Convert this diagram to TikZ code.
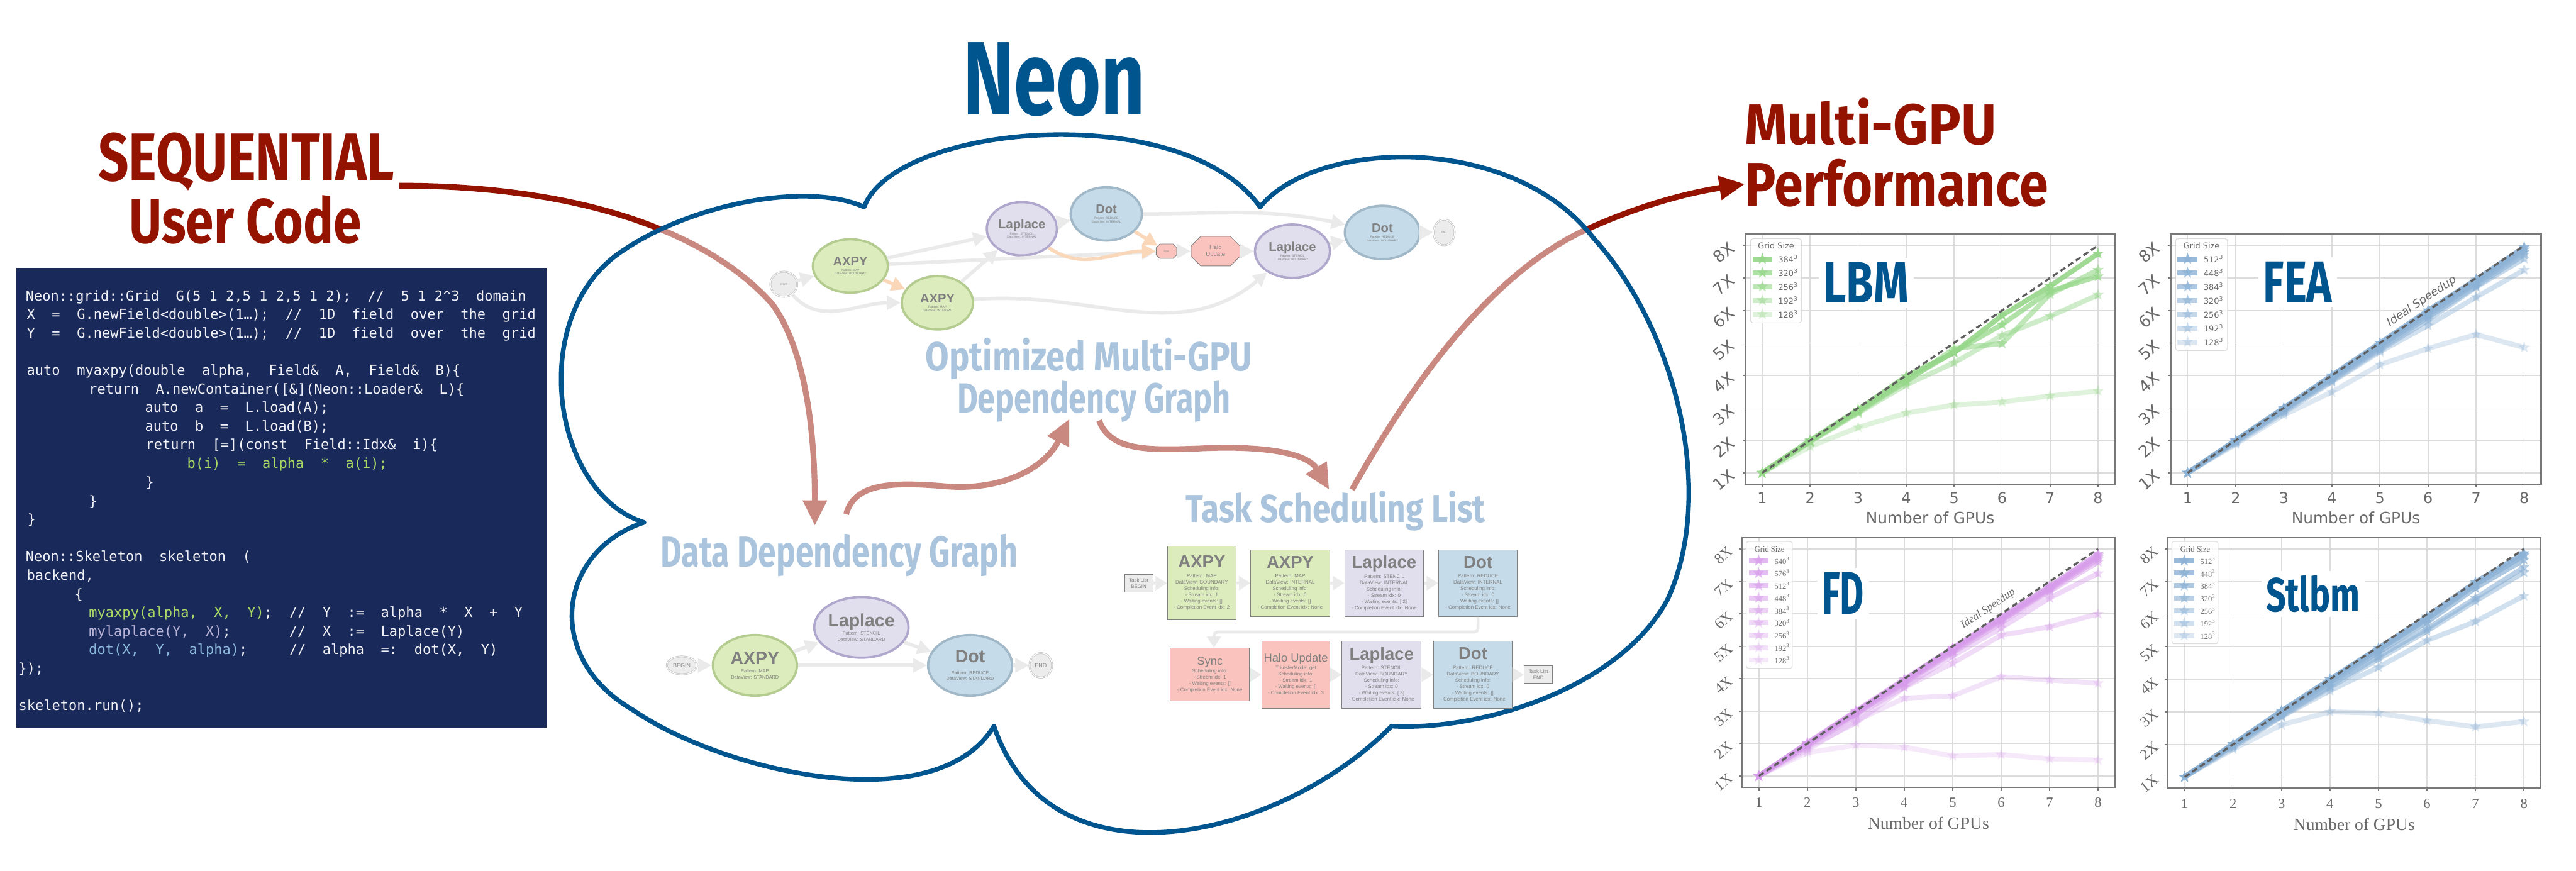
\documentclass[tikz,border=0pt]{standalone}
\usepackage{fontspec}
\usepackage{graphicx}
\usetikzlibrary{shapes.geometric, shapes.misc, arrows.meta, positioning}
\newfontfamily\codefont{DejaVu Sans Mono}
\newfontfamily\graphfont{Liberation Sans}
\newfontfamily\plotsans{DejaVu Sans}
\newfontfamily\plotserif{Liberation Serif}
\newfontfamily\handfont{Fira Sans}

\definecolor{neonblue}{RGB}{0,85,143}
\definecolor{seqred}{RGB}{147,19,0}
\definecolor{paleblue}{RGB}{169,196,220}
\definecolor{codebg}{RGB}{24,41,90}
\definecolor{codetext}{RGB}{240,240,245}
\definecolor{codegreen}{RGB}{170,218,100}
\definecolor{codelav}{RGB}{185,180,215}
\definecolor{codeblue}{RGB}{140,185,220}
\definecolor{axfill}{RGB}{220,236,188}
\definecolor{axdraw}{RGB}{181,204,144}
\definecolor{lpfill}{RGB}{225,223,238}
\definecolor{lpdraw}{RGB}{176,168,204}
\definecolor{dtfill}{RGB}{197,219,233}
\definecolor{dtdraw}{RGB}{160,184,200}
\definecolor{hlfill}{RGB}{250,195,189}
\definecolor{endfill}{RGB}{236,236,236}
\definecolor{enddraw}{RGB}{200,200,200}
\definecolor{edgegray}{RGB}{234,234,234}
\definecolor{edgeorange}{RGB}{250,215,185}
\definecolor{labelgray}{RGB}{128,128,128}
\definecolor{tickgray}{RGB}{105,105,105}
\definecolor{idealgray}{RGB}{95,95,95}
\definecolor{gridgray}{RGB}{220,220,220}
\definecolor{framegray}{RGB}{120,120,120}
\definecolor{lbmgreen}{RGB}{150,215,138}
\definecolor{feablue}{RGB}{140,178,214}
\definecolor{fdpurple}{RGB}{215,155,235}

\pgfdeclarelayer{bglayer}
\pgfdeclarelayer{arrowlayer}
\pgfdeclarelayer{cloudlayer}
\pgfsetlayers{bglayer,arrowlayer,cloudlayer,main}

\pgfdeclareplotmark{fstar}{%
  \pgfpathmoveto{\pgfpointpolar{90}{\pgfplotmarksize}}%
  \pgfpathlineto{\pgfpointscale{0.42}{\pgfpointpolar{126}{\pgfplotmarksize}}}%
  \pgfpathlineto{\pgfpointpolar{162}{\pgfplotmarksize}}%
  \pgfpathlineto{\pgfpointscale{0.42}{\pgfpointpolar{198}{\pgfplotmarksize}}}%
  \pgfpathlineto{\pgfpointpolar{234}{\pgfplotmarksize}}%
  \pgfpathlineto{\pgfpointscale{0.42}{\pgfpointpolar{270}{\pgfplotmarksize}}}%
  \pgfpathlineto{\pgfpointpolar{306}{\pgfplotmarksize}}%
  \pgfpathlineto{\pgfpointscale{0.42}{\pgfpointpolar{342}{\pgfplotmarksize}}}%
  \pgfpathlineto{\pgfpointpolar{18}{\pgfplotmarksize}}%
  \pgfpathlineto{\pgfpointscale{0.42}{\pgfpointpolar{54}{\pgfplotmarksize}}}%
  \pgfpathclose
  \pgfusepathqfill}

\newcommand{\toptitle}[1]{{\fontsize{11}{11}\selectfont\bfseries #1}}
\newcommand{\bottitle}[1]{{\fontsize{15.5}{15.5}\selectfont\bfseries #1}}
\newcommand{\tasktitle}[1]{{\fontsize{15}{15}\selectfont\bfseries #1}}

\tikzset{
  bigtitle/.style={inner sep=0pt, anchor=base west},
  codeln/.style={anchor=base west, inner sep=0pt, text=codetext, font=\codefont\fontsize{12}{14}\selectfont},
  redarrow/.style={draw=seqred, line width=5pt, -{Triangle[length=22pt,width=20pt]}},
  cloudshape/.style={draw=neonblue, line width=4pt, line join=round, fill=white, fill opacity=0.5},
  gnode/.style={ellipse, line width=2pt, inner sep=0pt, text=labelgray, align=center},
  topnode/.style={gnode, minimum width=64.9pt, minimum height=46.2pt, font=\graphfont\fontsize{2.6}{3.1}\selectfont},
  botnode/.style={gnode, minimum width=72.8pt, minimum height=52.5pt, font=\graphfont\fontsize{4}{5.2}\selectfont},
  axpyc/.style={fill=axfill, draw=axdraw},
  lapc/.style={fill=lpfill, draw=lpdraw},
  dotc/.style={fill=dtfill, draw=dtdraw},
  endnode/.style={ellipse, fill=endfill, draw=enddraw, double=white, double distance=0.6pt, line width=0.5pt, inner sep=0pt, text=labelgray, align=center},
  octnode/.style={chamfered rectangle, fill=hlfill, draw=labelgray, line width=0.5pt, inner sep=0pt, text=labelgray, align=center},
  gedge/.style={draw=edgegray, line width=3pt, -{Triangle[length=12pt,width=12pt]}},
  oedge/.style={gedge, draw=edgeorange},
  tbox/.style={rectangle, draw=labelgray, line width=0.6pt, inner sep=0pt, text=labelgray, align=center, font=\graphfont\fontsize{4.3}{5.45}\selectfont, minimum width=68.4pt, minimum height=57.9pt},
  tarrow/.style={draw=edgegray, line width=2.5pt, -{Triangle[length=10pt,width=12pt]}},
  gridln/.style={draw=gridgray, line width=0.9pt},
  tickln/.style={draw=framegray, line width=0.9pt},
  plotframe/.style={draw=framegray, line width=1.3pt},
  xticklab/.style={inner sep=0pt, text=tickgray},
  yticklab/.style={inner sep=0pt, text=tickgray, rotate=40},
  plotname/.style={fill=white, inner sep=4pt, text=neonblue},
  series/.style={line width=4.3pt, line join=round, mark=fstar, mark size=5.2pt},
  lbm/.style={series, color=lbmgreen},
  fea/.style={series, color=feablue},
  fdp/.style={series, color=fdpurple},
  ideal/.style={draw=idealgray, line width=1.8pt, dash pattern=on 5pt off 3pt},
  legbox/.style={draw=gridgray, line width=0.6pt, fill=white, fill opacity=0.8, rounded corners=2pt},
  legtext/.style={anchor=west, inner sep=0pt, text=tickgray}
}

\begin{document}
\begin{tikzpicture}[x=0.05cm, y=-0.05cm]

\useasboundingbox (0,0) rectangle (1568,530);
\begin{pgfonlayer}{bglayer}
  \fill[white] (0,0) rectangle (1568,530);
\end{pgfonlayer}

% Titles
\node[bigtitle, text=seqred] (seq) at (59.7,110) {\resizebox{256.5pt}{41.7pt}{\handfont\bfseries SEQUENTIAL}};
\node[bigtitle, text=seqred] (usercode) at (78.5,148) {\resizebox{201pt}{41.3pt}{\handfont\bfseries User Code}};
\node[bigtitle, text=neonblue] (neon) at (586,70) {\resizebox{158pt}{62.6pt}{\handfont\bfseries Neon}};
\node[bigtitle, text=seqred] (mgpu) at (1062,87.8) {\resizebox{217.7pt}{40.1pt}{\handfont\bfseries Multi-GPU}};
\node[bigtitle, text=seqred] (perf) at (1062,125.3) {\resizebox{262.5pt}{40.5pt}{\handfont\bfseries Performance}};
\node[bigtitle, text=paleblue] (ddg) at (402,345) {\resizebox{309.4pt}{28.5pt}{\handfont\bfseries Data Dependency Graph}};
\node[bigtitle, text=paleblue] (optim) at (563.2,225.8) {\resizebox{283pt}{28.5pt}{\handfont\bfseries Optimized Multi-GPU}};
\node[bigtitle, text=paleblue] (depgraph) at (582.5,251.2) {\resizebox{236.9pt}{27.7pt}{\handfont\bfseries Dependency Graph}};
\node[bigtitle, text=paleblue] (tsl) at (721.5,318) {\resizebox{259.6pt}{27.3pt}{\handfont\bfseries Task Scheduling List}};

% Code
\fill[codebg] (10.1,163) rectangle (332.6,443);
\node[codeln] (c1) at (15.5,183.0) {Neon::grid::Grid~~G(5~1~2,5~1~2,5~1~2);~~//~~5~1~2\textasciicircum3~~domain};
\node[codeln] (c2) at (16.2,194.3) {X~~=~~G.newField<double>(1…);~~//~~1D~~field~~over~~the~~grid};
\node[codeln] (c3) at (16.2,205.7) {Y~~=~~G.newField<double>(1…);~~//~~1D~~field~~over~~the~~grid};
\node[codeln] (c5) at (16.2,228.4) {auto~~myaxpy(double~~alpha,~~Field\&~~A,~~Field\&~~B)\{};
\node[codeln] (c6) at (54,239.7) {return~~A.newContainer([\&](Neon::Loader\&~~L)\{};
\node[codeln] (c7) at (88.1,251.0) {auto~~a~~=~~L.load(A);};
\node[codeln] (c8) at (88.1,262.4) {auto~~b~~=~~L.load(B);};
\node[codeln] (c9) at (88.5,273.7) {return~~[=](const~~Field::Idx\&~~i)\{};
\node[codeln] (c10) at (113.8,285.1) {{\color{codegreen}b(i)~~=~~alpha~~*~~a(i);}};
\node[codeln] (c11) at (88.5,296.4) {\}};
\node[codeln] (c12) at (54,307.8) {\}};
\node[codeln] (c13) at (16.6,319.1) {\}};
\node[codeln] (c15) at (15.5,341.8) {Neon::Skeleton~~skeleton~~(};
\node[codeln] (c16) at (16.2,353.1) {backend,};
\node[codeln] (c17) at (45.3,364.5) {\{};
\node[codeln] (c18) at (54,375.8) {{\color{codegreen}myaxpy(alpha,~~X,~~Y)};~~//~~Y~~:=~~alpha~~*~~X~~+~~Y};
\node[codeln] (c19) at (54,387.2) {{\color{codelav}mylaplace(Y,~~X)};~~~~~~~//~~X~~:=~~Laplace(Y)};
\node[codeln] (c20) at (54,398.5) {{\color{codeblue}dot(X,~~Y,~~alpha)};~~~~~//~~alpha~~=:~~dot(X,~~Y)};
\node[codeln] (c21) at (11.2,409.8) {\});};
\node[codeln] (c23) at (11.2,432.5) {skeleton.run();};

% Arrows
\coordinate (a1s) at (243,113);
\coordinate (a1e) at (496,320);
\coordinate (a2s) at (515,313);
\coordinate (a2e) at (651,255);
\coordinate (a3s) at (669,256);
\coordinate (a3e) at (809,298);
\coordinate (a4s) at (823,298);
\coordinate (a4e) at (1062,112);
\begin{pgfonlayer}{arrowlayer}
  \draw[redarrow] (a1s) .. controls (350,113) and (430,140) .. (470,185) .. controls (492,215) and (496,270) .. (a1e);
  \draw[redarrow] (a2s) .. controls (520,295) and (540,293) .. (575,296) .. controls (610,299) and (636,285) .. (a2e);
  \draw[redarrow] (a3s) .. controls (676,275) and (700,274) .. (730,273) .. controls (770,271) and (796,276) .. (a3e);
  \draw[redarrow] (a4s) .. controls (850,250) and (900,170) .. (965,140) .. controls (1000,124) and (1030,117) .. (a4e);
\end{pgfonlayer}

% Cloud
\begin{pgfonlayer}{cloudlayer}
  \path[cloudshape] (526,126) .. controls (545,75) and (720,60) .. (767,126)
    .. controls (800,85) and (920,80) .. (970,145)
    .. controls (1020,200) and (1045,300) .. (1015,365)
    .. controls (985,420) and (900,445) .. (847,442)
    .. controls (780,510) and (640,545) .. (605,442)
    .. controls (570,500) and (440,470) .. (385,432)
    .. controls (330,400) and (340,335) .. (392,318)
    .. controls (335,300) and (320,190) .. (380,152)
    .. controls (420,125) and (490,110) .. cycle;
\end{pgfonlayer}

% Optimized graph
\node[endnode, minimum width=23.3pt, minimum height=21.8pt, font=\graphfont\fontsize{2}{2.4}\selectfont] (gstart) at (477.1,173) {START};
\node[topnode, axpyc] (gax1) at (517.6,161.9) {\toptitle{AXPY}\\[1.4pt]Pattern: MAP\\DataView: BOUNDARY};
\node[topnode, axpyc, minimum width=61.7pt] (gax2) at (570.6,184.3) {\toptitle{AXPY}\\[1.4pt]Pattern: MAP\\DataView: INTERNAL};
\node[topnode, lapc, minimum width=60.7pt] (glp1) at (622,139.3) {\toptitle{Laplace}\\Pattern: STENCIL\\DataView: INTERNAL};
\node[topnode, dotc, minimum width=61.7pt] (gdt1) at (673.4,130.2) {\toptitle{Dot}\\[2pt]Pattern: REDUCE\\DataView: INTERNAL};
\node[octnode, minimum width=17.8pt, minimum height=12.4pt, chamfered rectangle xsep=3pt, font=\graphfont\fontsize{2}{2.4}\selectfont] (gsync) at (710,152.9) {Sync};
\node[octnode, minimum width=42.5pt, minimum height=25.5pt, chamfered rectangle xsep=7pt, font=\graphfont\fontsize{5.2}{6.2}\selectfont] (ghalo) at (739.9,152.9) {Halo\\Update};
\node[topnode, lapc] (glp2) at (786.7,152.9) {\toptitle{Laplace}\\Pattern: STENCIL\\DataView: BOUNDARY};
\node[topnode, dotc] (gdt2) at (841.4,141.5) {\toptitle{Dot}\\[2pt]Pattern: REDUCE\\DataView: BOUNDARY};
\node[endnode, minimum width=18.2pt, minimum height=22.2pt, font=\graphfont\fontsize{2}{2.4}\selectfont] (gend) at (879,141.5) {END};

\draw[gedge] (gstart) -- (gax1);
\draw[gedge] (gstart) to[out=-50, in=180] (gax2);
\draw[oedge] (gax1) -- (gax2);
\draw[gedge] (gax1) -- (glp1);
\draw[gedge] (gax1) -- (gsync);
\draw[gedge] (gax2) -- (glp1);
\draw[gedge] (gax2) to[out=5, in=-140] (glp2);
\draw[gedge] (glp1) -- (gdt1);
\draw[oedge] (glp1) to[out=-35, in=180] (gsync);
\draw[oedge] (gdt1) -- (gsync);
\draw[gedge] (gdt1) to[out=0, in=168] (gdt2);
\draw[gedge] (gsync) -- (ghalo);
\draw[gedge] (ghalo) -- (glp2);
\draw[gedge] (glp2) -- (gdt2);
\draw[gedge] (gdt2) -- (gend);

% Data dependency graph
\node[endnode, minimum width=25.9pt, minimum height=15.4pt, font=\graphfont\fontsize{4.9}{5}\selectfont] (bbegin) at (415,405) {BEGIN};
\node[botnode, axpyc] (bax) at (459.5,405) {\bottitle{AXPY}\\[2pt]Pattern: MAP\\DataView: STANDARD};
\node[botnode, lapc] (blp) at (524.3,381.9) {\bottitle{Laplace}\\Pattern: STENCIL\\DataView: STANDARD};
\node[botnode, dotc] (bdt) at (590.5,405) {\bottitle{Dot}\\[5pt]Pattern: REDUCE\\DataView: STANDARD};
\node[endnode, minimum width=19.6pt, minimum height=21.2pt, font=\graphfont\fontsize{4.9}{5}\selectfont] (bend) at (633.5,405) {END};

\draw[gedge] (bbegin) -- (bax);
\draw[gedge] (bax) -- (blp);
\draw[gedge] (bax) -- (bdt);
\draw[gedge] (blp) -- (bdt);
\draw[gedge] (bdt) -- (bend);

% Task scheduling list
\node[tbox, fill=endfill, minimum width=24.5pt, minimum height=15.4pt] (tbegin) at (693.1,355) {Task List\\BEGIN};
\node[tbox, fill=axfill, minimum width=59.5pt, minimum height=64pt] (tax1) at (731.5,354.9) {\tasktitle{AXPY}\\[3pt]Pattern: MAP\\DataView: BOUNDARY\\Scheduling info:\\- Stream idx: 1\\- Waiting events: []\\- Completion Event idx: 2};
\node[tbox, fill=axfill] (tax2) at (785.35,354.95) {\tasktitle{AXPY}\\[3pt]Pattern: MAP\\DataView: INTERNAL\\Scheduling info:\\- Stream idx: 0\\- Waiting events: []\\- Completion Event idx: None};
\node[tbox, fill=lpfill] (tlp1) at (842.55,354.95) {\tasktitle{Laplace}\\[1.3pt]Pattern: STENCIL\\DataView: INTERNAL\\Scheduling info:\\- Stream idx: 0\\- Waiting events: [ 2]\\- Completion Event idx: None};
\node[tbox, fill=dtfill] (tdt1) at (899.65,354.95) {\tasktitle{Dot}\\[3pt]Pattern: REDUCE\\DataView: INTERNAL\\Scheduling info:\\- Stream idx: 0\\- Waiting events: []\\- Completion Event idx: None};
\node[tbox, fill=hlfill, minimum width=68.7pt, minimum height=45.8pt] (tsync) at (736.45,410.7) {{\fontsize{10}{10}\selectfont Sync}\\[1pt]Scheduling info:\\- Stream idx: 1\\- Waiting events: []\\- Completion Event idx: None};
\node[tbox, fill=hlfill, minimum width=59.2pt, minimum height=58.3pt] (thalo) at (788.8,410.7) {{\fontsize{10}{10}\selectfont Halo Update}\\[1pt]TransferMode: get\\Scheduling info:\\- Stream idx: 1\\- Waiting events: []\\- Completion Event idx: 3};
\node[tbox, fill=lpfill, minimum width=68.7pt, minimum height=58.3pt] (tlp2) at (840.95,410.7) {\tasktitle{Laplace}\\[1.3pt]Pattern: STENCIL\\DataView: BOUNDARY\\Scheduling info:\\- Stream idx: 0\\- Waiting events: [ 3]\\- Completion Event idx: None};
\node[tbox, fill=dtfill, minimum height=58.3pt] (tdt2) at (896.55,410.7) {\tasktitle{Dot}\\[3pt]Pattern: REDUCE\\DataView: BOUNDARY\\Scheduling info:\\- Stream idx: 0\\- Waiting events: []\\- Completion Event idx: None};
\node[tbox, fill=endfill, minimum width=24.5pt, minimum height=15.4pt] (tend) at (936.4,410.7) {Task List\\END};

\draw[tarrow] (tbegin) -- (tax1);
\draw[tarrow] (tax1) -- (tax2);
\draw[tarrow] (tax2) -- (tlp1);
\draw[tarrow] (tlp1) -- (tdt1);
\draw[tarrow, rounded corners=3pt] (tdt1.south) -- ++(0,9.2) -| ([xshift=3.5pt]tsync.north);
\draw[tarrow] (tsync) -- (thalo);
\draw[tarrow] (thalo) -- (tlp2);
\draw[tarrow] (tlp2) -- (tdt2);
\draw[tarrow] (tdt2) -- (tend);

% LBM chart
\begin{scope}[shift={(1043.4,307.6)}, x=1.4605cm, y=0.9885cm]
  \foreach \i in {1,...,8} {
    \draw[gridln] (\i,0.65) -- (\i,8.35);
    \draw[gridln] (0.65,\i) -- (8.35,\i);
    \draw[tickln] (\i,0.65) -- (\i,0.56);
    \draw[tickln] (0.65,\i) -- (0.59,\i);
    \node[xticklab, font=\plotsans\fontsize{13}{13}\selectfont] (lbmx\i) at (\i,0.23) {\i};
    \node[yticklab, font=\plotsans\fontsize{14}{14}\selectfont] (lbmy\i) at (0.2,\i-0.22) {\i X};
  }
  \draw[plotframe] (0.65,0.65) rectangle (8.35,8.35);
  \node[xticklab, font=\plotsans\fontsize{13.5}{14}\selectfont] (lbmxl) at (4.5,-0.39) {Number of GPUs};
  \node[plotname] (lbmname) at (3.17,6.86) {\resizebox{74pt}{35pt}{\handfont\bfseries LBM}};
  \draw[lbm, opacity=0.3] plot coordinates {(1,1) (2,1.81) (3,2.4) (4,2.84) (5,3.09) (6,3.18) (7,3.37) (8,3.52)};
  \draw[lbm, opacity=0.45] plot coordinates {(1,1) (2,1.95) (3,2.84) (4,3.71) (5,4.39) (6,5.23) (7,5.82) (8,6.48)};
  \draw[lbm, opacity=0.6] plot coordinates {(1,1) (2,1.97) (3,2.87) (4,3.8) (5,4.83) (6,4.98) (7,6.5) (8,7.25)};
  \draw[lbm, opacity=0.75] plot coordinates {(1,1) (2,1.98) (3,2.9) (4,3.85) (5,4.72) (6,5.57) (7,6.6) (8,7.05)};
  \draw[lbm, opacity=0.9] plot coordinates {(1,1) (2,2) (3,2.95) (4,3.97) (5,4.7) (6,5.85) (7,6.75) (8,7.75)};
  \draw[ideal] (1,1) -- (8,8);
  \draw[legbox] (0.757,5.62) rectangle (1.82,8.21);
  \node[xticklab, font=\plotsans\fontsize{7}{7}\selectfont] (lbmlt) at (1.29,8.0) {Grid Size};
  \foreach \g/\op [count=\k] in {384/0.9, 320/0.75, 256/0.6, 192/0.45, 128/0.3} {
    \pgfmathsetmacro\yy{7.59-0.427*(\k-1)}
    \draw[lbm, opacity=\op] plot[mark indices={2}] coordinates {(0.8,\yy) (1.005,\yy) (1.21,\yy)};
    \node[legtext, font=\plotsans\fontsize{7}{7}\selectfont] (lbml\k) at (1.33,\yy) {\g\textsuperscript{3}};
  }
\end{scope}

% FEA chart
\begin{scope}[shift={(1302.3,307.6)}, x=1.4635cm, y=0.9885cm]
  \foreach \i in {1,...,8} {
    \draw[gridln] (\i,0.65) -- (\i,8.35);
    \draw[gridln] (0.65,\i) -- (8.35,\i);
    \draw[tickln] (\i,0.65) -- (\i,0.56);
    \draw[tickln] (0.65,\i) -- (0.59,\i);
    \node[xticklab, font=\plotsans\fontsize{13}{13}\selectfont] (feax\i) at (\i,0.23) {\i};
    \node[yticklab, font=\plotsans\fontsize{14}{14}\selectfont] (feay\i) at (0.2,\i-0.22) {\i X};
  }
  \draw[plotframe] (0.65,0.65) rectangle (8.35,8.35);
  \node[xticklab, font=\plotsans\fontsize{13.5}{14}\selectfont] (feaxl) at (4.5,-0.39) {Number of GPUs};
  \node[plotname] (feaname) at (3.29,6.88) {\resizebox{59.6pt}{35pt}{\handfont\bfseries FEA}};
  \draw[fea, opacity=0.3] plot coordinates {(1,1) (2,1.88) (3,2.78) (4,3.49) (5,4.33) (6,4.83) (7,5.26) (8,4.86)};
  \draw[fea, opacity=0.4] plot coordinates {(1,1) (2,1.92) (3,2.85) (4,3.8) (5,4.73) (6,5.54) (7,6.41) (8,7.25)};
  \draw[fea, opacity=0.5] plot coordinates {(1,1) (2,1.96) (3,2.9) (4,3.83) (5,4.78) (6,5.7) (7,6.72) (8,7.6)};
  \draw[fea, opacity=0.6] plot coordinates {(1,1) (2,1.98) (3,2.93) (4,3.88) (5,4.83) (6,5.79) (7,6.75) (8,7.72)};
  \draw[fea, opacity=0.7] plot coordinates {(1,1) (2,1.99) (3,2.96) (4,3.93) (5,4.9) (6,5.87) (7,6.84) (8,7.8)};
  \draw[fea, opacity=0.8] plot coordinates {(1,1) (2,2) (3,2.98) (4,3.97) (5,4.95) (6,5.93) (7,6.9) (8,7.88)};
  \draw[fea, opacity=0.9] plot coordinates {(1,1) (2,2) (3,3) (4,4) (5,5) (6,6) (7,6.95) (8,7.95)};
  \draw[ideal] (1,1) -- (8,8);
  \node[xticklab, rotate=34, font=\plotsans\itshape\fontsize{9.8}{10}\selectfont] (feaideal) at (5.87,6.28) {Ideal Speedup};
  \draw[legbox] (0.75,4.77) rectangle (1.83,8.21);
  \node[xticklab, font=\plotsans\fontsize{7}{7}\selectfont] (fealt) at (1.29,8.0) {Grid Size};
  \foreach \g/\op [count=\k] in {512/0.9, 448/0.8, 384/0.7, 320/0.6, 256/0.5, 192/0.4, 128/0.3} {
    \pgfmathsetmacro\yy{7.59-0.427*(\k-1)}
    \draw[fea, opacity=\op] plot[mark indices={2}] coordinates {(0.79,\yy) (1.0,\yy) (1.21,\yy)};
    \node[legtext, font=\plotsans\fontsize{7}{7}\selectfont] (feal\k) at (1.33,\yy) {\g\textsuperscript{3}};
  }
\end{scope}

% FD chart
\begin{scope}[shift={(1041.1,492.1)}, x=1.475cm, y=0.987cm]
  \foreach \i in {1,...,8} {
    \draw[gridln] (\i,0.65) -- (\i,8.35);
    \draw[gridln] (0.65,\i) -- (8.35,\i);
    \draw[tickln] (\i,0.65) -- (\i,0.56);
    \draw[tickln] (0.65,\i) -- (0.59,\i);
    \node[xticklab, font=\plotserif\fontsize{12.3}{13}\selectfont] (fdx\i) at (\i,0.18) {\i};
    \node[yticklab, font=\plotserif\fontsize{13}{13}\selectfont] (fdy\i) at (0.27,\i-0.2) {\i X};
  }
  \draw[plotframe] (0.65,0.65) rectangle (8.35,8.35);
  \node[xticklab, font=\plotserif\fontsize{15}{15}\selectfont] (fdxl) at (4.5,-0.45) {Number of GPUs};
  \node[plotname] (fdname) at (2.74,6.64) {\resizebox{36.4pt}{36.1pt}{\handfont\bfseries FD}};
  \draw[fdp, opacity=0.22] plot coordinates {(1,1) (2,1.72) (3,1.95) (4,1.89) (5,1.62) (6,1.66) (7,1.53) (8,1.49)};
  \draw[fdp, opacity=0.28] plot coordinates {(1,1) (2,1.8) (3,2.7) (4,3.4) (5,3.47) (6,4.06) (7,3.96) (8,3.86)};
  \draw[fdp, opacity=0.34] plot coordinates {(1,1) (2,1.88) (3,2.64) (4,3.73) (5,4.48) (6,5.34) (7,5.6) (8,6.0)};
  \draw[fdp, opacity=0.4] plot coordinates {(1,1) (2,1.92) (3,2.85) (4,3.75) (5,4.7) (6,5.57) (7,6.49) (8,7.25)};
  \draw[fdp, opacity=0.46] plot coordinates {(1,1) (2,1.95) (3,2.9) (4,3.85) (5,4.8) (6,5.72) (7,6.69) (8,7.6)};
  \draw[fdp, opacity=0.52] plot coordinates {(1,1) (2,1.98) (3,2.92) (4,3.88) (5,4.85) (6,5.78) (7,6.74) (8,7.68)};
  \draw[fdp, opacity=0.58] plot coordinates {(1,1) (2,2) (3,2.95) (4,3.92) (5,4.88) (6,5.82) (7,6.78) (8,7.75)};
  \draw[fdp, opacity=0.64] plot coordinates {(1,1) (2,2) (3,2.98) (4,3.95) (5,4.92) (6,5.87) (7,6.82) (8,7.8)};
  \draw[fdp, opacity=0.7] plot coordinates {(1,1) (2,2.02) (3,3) (4,3.98) (5,4.95) (6,5.9) (7,6.85) (8,7.85)};
  \draw[ideal] (1,1) -- (8,8);
  \node[xticklab, rotate=34, font=\plotserif\itshape\fontsize{9.6}{10}\selectfont] (fdideal) at (5.73,6.15) {Ideal Speedup};
  \draw[legbox] (0.74,4.32) rectangle (1.69,8.23);
  \node[xticklab, font=\plotserif\fontsize{6.8}{7}\selectfont] (fdlt) at (1.22,8.0) {Grid Size};
  \foreach \g/\op [count=\k] in {640/0.7, 576/0.64, 512/0.58, 448/0.52, 384/0.46, 320/0.4, 256/0.34, 192/0.28, 128/0.22} {
    \pgfmathsetmacro\yy{7.64-0.383*(\k-1)}
    \draw[fdp, opacity=\op] plot[mark indices={2}] coordinates {(0.79,\yy) (0.995,\yy) (1.2,\yy)};
    \node[legtext, font=\plotserif\fontsize{6.8}{7}\selectfont] (fdl\k) at (1.32,\yy) {\g\textsuperscript{3}};
  }
\end{scope}

% Stlbm chart
\begin{scope}[shift={(1300.2,492.8)}, x=1.4755cm, y=0.9915cm]
  \foreach \i in {1,...,8} {
    \draw[gridln] (\i,0.65) -- (\i,8.35);
    \draw[gridln] (0.65,\i) -- (8.35,\i);
    \draw[tickln] (\i,0.65) -- (\i,0.56);
    \draw[tickln] (0.65,\i) -- (0.59,\i);
    \node[xticklab, font=\plotserif\fontsize{12.3}{13}\selectfont] (stlx\i) at (\i,0.18) {\i};
    \node[yticklab, font=\plotserif\fontsize{13}{13}\selectfont] (stly\i) at (0.27,\i-0.2) {\i X};
  }
  \draw[plotframe] (0.65,0.65) rectangle (8.35,8.35);
  \node[xticklab, font=\plotserif\fontsize{15}{15}\selectfont] (stlxl) at (4.5,-0.45) {Number of GPUs};
  \node[plotname] (stlname) at (3.65,6.62) {\resizebox{81.4pt}{31.4pt}{\handfont\bfseries Stlbm}};
  \draw[fea, opacity=0.3] plot coordinates {(1,1) (2,1.85) (3,2.6) (4,3.0) (5,2.96) (6,2.73) (7,2.54) (8,2.7)};
  \draw[fea, opacity=0.4] plot coordinates {(1,1) (2,1.9) (3,2.85) (4,3.65) (5,4.37) (6,5.19) (7,5.77) (8,6.56)};
  \draw[fea, opacity=0.5] plot coordinates {(1,1) (2,1.95) (3,2.86) (4,3.75) (5,4.62) (6,5.48) (7,6.4) (8,7.28)};
  \draw[fea, opacity=0.6] plot coordinates {(1,1) (2,1.97) (3,2.9) (4,3.8) (5,4.7) (6,5.55) (7,6.49) (8,7.44)};
  \draw[fea, opacity=0.7] plot coordinates {(1,1) (2,2) (3,2.96) (4,3.9) (5,4.83) (6,5.75) (7,6.8) (8,7.67)};
  \draw[fea, opacity=0.8] plot coordinates {(1,1) (2,2) (3,3) (4,3.96) (5,4.9) (6,5.85) (7,6.9) (8,7.8)};
  \draw[fea, opacity=0.9] plot coordinates {(1,1) (2,2.01) (3,3.03) (4,4) (5,4.96) (6,5.92) (7,6.98) (8,7.87)};
  \draw[ideal] (1,1) -- (8,8);
  \draw[legbox] (0.74,5.09) rectangle (1.69,8.23);
  \node[xticklab, font=\plotserif\fontsize{6.8}{7}\selectfont] (stllt) at (1.22,8.0) {Grid Size};
  \foreach \g/\op [count=\k] in {512/0.9, 448/0.8, 384/0.7, 320/0.6, 256/0.5, 192/0.4, 128/0.3} {
    \pgfmathsetmacro\yy{7.64-0.383*(\k-1)}
    \draw[fea, opacity=\op] plot[mark indices={2}] coordinates {(0.79,\yy) (0.995,\yy) (1.2,\yy)};
    \node[legtext, font=\plotserif\fontsize{6.8}{7}\selectfont] (stll\k) at (1.32,\yy) {\g\textsuperscript{3}};
  }
\end{scope}

\end{tikzpicture}
\end{document}
